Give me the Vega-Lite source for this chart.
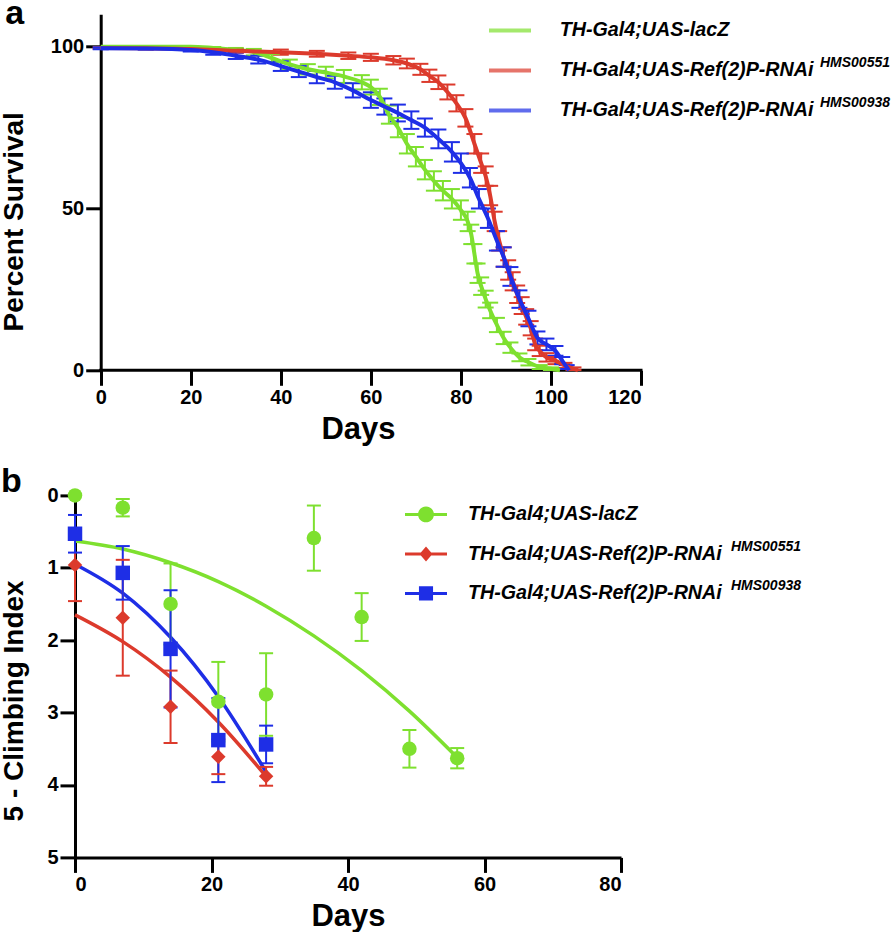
{
  "$schema": "https://vega.github.io/schema/vega-lite/v6.json",
  "padding": {"left": 0, "top": -2.7, "right": 0, "bottom": 0},
  "background": "white",
  "spacing": 21.1,
  "resolve": {"scale": {"color": "independent", "shape": "independent", "opacity": "independent"}},
  "config": {
    "view": {"stroke": null},
    "font": "Liberation Sans",
    "axis": {
      "domainColor": "black", "domainWidth": 3, "tickColor": "black", "tickWidth": 3, "tickSize": 15,
      "labelFont": "Liberation Sans", "labelFontSize": 20, "labelFontWeight": "bold", "labelColor": "black", "labelPadding": 2,
      "titleFont": "Liberation Sans", "titleFontWeight": "bold", "titleColor": "black", "grid": false
    },
    "axisX": {"titleFontSize": 31},
    "axisY": {"titleFontSize": 28},
    "legend": {
      "labelFont": "Liberation Sans", "labelFontSize": 19.7, "labelFontStyle": "italic", "labelFontWeight": "bold", "labelColor": "black",
      "padding": 0, "labelLimit": 600
    }
  },
  "vconcat": [
    {
      "width": 566,
      "height": 356,
      "title": {"text": "a", "anchor": "start", "frame": "bounds", "fontSize": 34, "fontWeight": "bold", "font": "Liberation Sans", "color": "black", "offset": -18, "dx": 5},
      "data": {"values": [
        {"series": "lacZ", "day": 0, "surv": 100, "lo": 100, "hi": 100},
        {"series": "lacZ", "day": 10, "surv": 100, "lo": 100, "hi": 100},
        {"series": "lacZ", "day": 20, "surv": 100, "lo": 100, "hi": 100},
        {"series": "lacZ", "day": 25, "surv": 99.6, "lo": 99.3, "hi": 99.9},
        {"series": "lacZ", "day": 30, "surv": 99, "lo": 98.4, "hi": 99.6},
        {"series": "lacZ", "day": 34, "surv": 98.3, "lo": 97.3, "hi": 99.3},
        {"series": "lacZ", "day": 38, "surv": 96.5, "lo": 95.3, "hi": 97.7},
        {"series": "lacZ", "day": 42, "surv": 94.5, "lo": 93, "hi": 96},
        {"series": "lacZ", "day": 46, "surv": 93, "lo": 91.4, "hi": 94.6},
        {"series": "lacZ", "day": 50, "surv": 92, "lo": 90.2, "hi": 93.8},
        {"series": "lacZ", "day": 54, "surv": 90.8, "lo": 88.8, "hi": 92.8},
        {"series": "lacZ", "day": 58, "surv": 89, "lo": 86.8, "hi": 91.2},
        {"series": "lacZ", "day": 60, "surv": 87.5, "lo": 85.2, "hi": 89.8},
        {"series": "lacZ", "day": 62, "surv": 84.5, "lo": 82, "hi": 87},
        {"series": "lacZ", "day": 64, "surv": 79, "lo": 76.2, "hi": 81.8},
        {"series": "lacZ", "day": 66, "surv": 75, "lo": 72, "hi": 78},
        {"series": "lacZ", "day": 68, "surv": 70, "lo": 67, "hi": 73},
        {"series": "lacZ", "day": 70, "surv": 66, "lo": 63, "hi": 69},
        {"series": "lacZ", "day": 72, "surv": 62, "lo": 59, "hi": 65},
        {"series": "lacZ", "day": 74, "surv": 58.5, "lo": 55.5, "hi": 61.5},
        {"series": "lacZ", "day": 76, "surv": 55.5, "lo": 52.5, "hi": 58.5},
        {"series": "lacZ", "day": 78, "surv": 53, "lo": 50, "hi": 56},
        {"series": "lacZ", "day": 80, "surv": 49.5, "lo": 46.5, "hi": 52.5},
        {"series": "lacZ", "day": 81.5, "surv": 46, "lo": 43, "hi": 49},
        {"series": "lacZ", "day": 82.3, "surv": 42, "lo": 39, "hi": 45},
        {"series": "lacZ", "day": 83, "surv": 36, "lo": 33, "hi": 39},
        {"series": "lacZ", "day": 83.7, "surv": 30, "lo": 27, "hi": 33},
        {"series": "lacZ", "day": 84.5, "surv": 26, "lo": 23.3, "hi": 28.7},
        {"series": "lacZ", "day": 85.5, "surv": 22, "lo": 19.4, "hi": 24.6},
        {"series": "lacZ", "day": 86.5, "surv": 18.5, "lo": 16.1, "hi": 20.9},
        {"series": "lacZ", "day": 88, "surv": 14, "lo": 11.8, "hi": 16.2},
        {"series": "lacZ", "day": 89.5, "surv": 10, "lo": 8.1, "hi": 11.9},
        {"series": "lacZ", "day": 91, "surv": 7, "lo": 5.4, "hi": 8.6},
        {"series": "lacZ", "day": 93, "surv": 4, "lo": 2.8, "hi": 5.2},
        {"series": "lacZ", "day": 95, "surv": 2.5, "lo": 1.5, "hi": 3.5},
        {"series": "lacZ", "day": 97.5, "surv": 1, "lo": 0.4, "hi": 1.6},
        {"series": "lacZ", "day": 100, "surv": 0.5, "lo": 0.1, "hi": 0.9},
        {"series": "lacZ", "day": 102, "surv": 0, "lo": 0, "hi": 0},
        {"series": "HMS00551", "day": 0, "surv": 99.6, "lo": 99.3, "hi": 99.9},
        {"series": "HMS00551", "day": 10, "surv": 99.5, "lo": 99.2, "hi": 99.8},
        {"series": "HMS00551", "day": 20, "surv": 99.3, "lo": 98.9, "hi": 99.7},
        {"series": "HMS00551", "day": 30, "surv": 98.7, "lo": 98.1, "hi": 99.3},
        {"series": "HMS00551", "day": 40, "surv": 98.3, "lo": 97.5, "hi": 99.1},
        {"series": "HMS00551", "day": 48, "surv": 97.8, "lo": 96.9, "hi": 98.7},
        {"series": "HMS00551", "day": 55, "surv": 97.2, "lo": 96.2, "hi": 98.2},
        {"series": "HMS00551", "day": 60, "surv": 96.7, "lo": 95.6, "hi": 97.8},
        {"series": "HMS00551", "day": 65, "surv": 95.8, "lo": 94.5, "hi": 97.1},
        {"series": "HMS00551", "day": 68, "surv": 94.8, "lo": 93.3, "hi": 96.3},
        {"series": "HMS00551", "day": 71, "surv": 93, "lo": 91.3, "hi": 94.7},
        {"series": "HMS00551", "day": 73, "surv": 91, "lo": 89.1, "hi": 92.9},
        {"series": "HMS00551", "day": 75, "surv": 89, "lo": 86.9, "hi": 91.1},
        {"series": "HMS00551", "day": 77, "surv": 86, "lo": 83.7, "hi": 88.3},
        {"series": "HMS00551", "day": 79, "surv": 82.5, "lo": 80, "hi": 85},
        {"series": "HMS00551", "day": 81, "surv": 78, "lo": 75.3, "hi": 80.7},
        {"series": "HMS00551", "day": 83, "surv": 70, "lo": 67, "hi": 73},
        {"series": "HMS00551", "day": 84.5, "surv": 64, "lo": 61, "hi": 67},
        {"series": "HMS00551", "day": 85.5, "surv": 60, "lo": 57, "hi": 63},
        {"series": "HMS00551", "day": 86.5, "surv": 54, "lo": 51, "hi": 57},
        {"series": "HMS00551", "day": 87.5, "surv": 46, "lo": 43, "hi": 49},
        {"series": "HMS00551", "day": 88.5, "surv": 40, "lo": 37, "hi": 43},
        {"series": "HMS00551", "day": 89.5, "surv": 35, "lo": 32, "hi": 38},
        {"series": "HMS00551", "day": 90.5, "surv": 31, "lo": 28, "hi": 34},
        {"series": "HMS00551", "day": 91.5, "surv": 27.5, "lo": 24.7, "hi": 30.3},
        {"series": "HMS00551", "day": 92.5, "surv": 23.5, "lo": 20.8, "hi": 26.2},
        {"series": "HMS00551", "day": 93.5, "surv": 20, "lo": 17.4, "hi": 22.6},
        {"series": "HMS00551", "day": 94.5, "surv": 16.5, "lo": 14.1, "hi": 18.9},
        {"series": "HMS00551", "day": 95.5, "surv": 13, "lo": 10.8, "hi": 15.2},
        {"series": "HMS00551", "day": 96.5, "surv": 8, "lo": 6.2, "hi": 9.8},
        {"series": "HMS00551", "day": 97.5, "surv": 6, "lo": 4.4, "hi": 7.6},
        {"series": "HMS00551", "day": 99, "surv": 4, "lo": 2.7, "hi": 5.3},
        {"series": "HMS00551", "day": 101, "surv": 3, "lo": 1.9, "hi": 4.1},
        {"series": "HMS00551", "day": 103, "surv": 1.5, "lo": 0.7, "hi": 2.3},
        {"series": "HMS00551", "day": 105, "surv": 0.5, "lo": 0.1, "hi": 0.9},
        {"series": "HMS00551", "day": 106, "surv": 0, "lo": 0, "hi": 0},
        {"series": "HMS00938", "day": 0, "surv": 99.5, "lo": 99.2, "hi": 99.8},
        {"series": "HMS00938", "day": 10, "surv": 99.4, "lo": 99.1, "hi": 99.7},
        {"series": "HMS00938", "day": 20, "surv": 99, "lo": 98.5, "hi": 99.5},
        {"series": "HMS00938", "day": 25, "surv": 98.3, "lo": 97.5, "hi": 99.1},
        {"series": "HMS00938", "day": 30, "surv": 97.2, "lo": 96.2, "hi": 98.2},
        {"series": "HMS00938", "day": 35, "surv": 96, "lo": 94.8, "hi": 97.2},
        {"series": "HMS00938", "day": 40, "surv": 94, "lo": 92.5, "hi": 95.5},
        {"series": "HMS00938", "day": 44, "surv": 92.3, "lo": 90.6, "hi": 94},
        {"series": "HMS00938", "day": 48, "surv": 90.6, "lo": 88.7, "hi": 92.5},
        {"series": "HMS00938", "day": 52, "surv": 89, "lo": 87, "hi": 91},
        {"series": "HMS00938", "day": 56, "surv": 86.5, "lo": 84.3, "hi": 88.7},
        {"series": "HMS00938", "day": 60, "surv": 83.5, "lo": 81.1, "hi": 85.9},
        {"series": "HMS00938", "day": 63, "surv": 81.5, "lo": 79, "hi": 84},
        {"series": "HMS00938", "day": 66, "surv": 79.5, "lo": 76.9, "hi": 82.1},
        {"series": "HMS00938", "day": 69, "surv": 77.3, "lo": 74.6, "hi": 80},
        {"series": "HMS00938", "day": 72, "surv": 75, "lo": 72.2, "hi": 77.8},
        {"series": "HMS00938", "day": 75, "surv": 71.5, "lo": 68.6, "hi": 74.4},
        {"series": "HMS00938", "day": 78, "surv": 67.5, "lo": 64.5, "hi": 70.5},
        {"series": "HMS00938", "day": 80, "surv": 64, "lo": 61, "hi": 67},
        {"series": "HMS00938", "day": 82, "surv": 59.5, "lo": 56.5, "hi": 62.5},
        {"series": "HMS00938", "day": 84, "surv": 53, "lo": 50, "hi": 56},
        {"series": "HMS00938", "day": 86, "surv": 47, "lo": 44, "hi": 50},
        {"series": "HMS00938", "day": 88, "surv": 40, "lo": 37, "hi": 43},
        {"series": "HMS00938", "day": 89.5, "surv": 35, "lo": 32, "hi": 38},
        {"series": "HMS00938", "day": 91, "surv": 29, "lo": 26.1, "hi": 31.9},
        {"series": "HMS00938", "day": 93, "surv": 22, "lo": 19.3, "hi": 24.7},
        {"series": "HMS00938", "day": 95, "surv": 16, "lo": 13.6, "hi": 18.4},
        {"series": "HMS00938", "day": 97, "surv": 10, "lo": 8, "hi": 12},
        {"series": "HMS00938", "day": 99, "surv": 8, "lo": 6.2, "hi": 9.8},
        {"series": "HMS00938", "day": 101, "surv": 6, "lo": 4.5, "hi": 7.5},
        {"series": "HMS00938", "day": 102.5, "surv": 3, "lo": 1.9, "hi": 4.1},
        {"series": "HMS00938", "day": 103.5, "surv": 1, "lo": 0.4, "hi": 1.6},
        {"series": "HMS00938", "day": 104, "surv": 0, "lo": 0, "hi": 0}
      ]},
      "encoding": {
        "x": {"field": "day", "type": "quantitative", "title": "Days",
              "scale": {"domain": [-5.71, 120], "nice": false},
              "axis": {"values": [0, 20, 40, 60, 80, 100, 120], "titlePadding": 7, "domain": false}},
        "color": {"field": "series", "type": "nominal",
                  "scale": {"domain": ["lacZ", "HMS00551", "HMS00938"], "range": ["#7EE02F", "#DC3A2C", "#1E2EE6"]},
                  "legend": {"title": null, "orient": "none", "legendX": 418, "legendY": -0.9,
                             "symbolType": "M0,-1M0,1M-1.4,0H1.4", "symbolSize": 900, "symbolStrokeWidth": 4,
                             "labelOffset": 32.7, "rowPadding": -6.5,
                             "labelExpr": "datum.value == 'lacZ' ? 'TH-Gal4;UAS-lacZ' : 'TH-Gal4;UAS-Ref(2)P-RNAi'"}},
        "opacity": {"field": "series", "type": "nominal",
                    "scale": {"domain": ["lacZ", "HMS00551", "HMS00938", "-"], "range": [1, 1, 1, 1]},
                    "legend": {"title": null, "orient": "none", "legendX": 711, "legendY": -0.9,
                               "symbolType": "M0,-1M0,1", "symbolSize": 900, "symbolStrokeWidth": 4, "symbolOpacity": 0,
                               "labelOffset": 0, "rowPadding": -6.5, "labelFontSize": 14, "labelBaseline": "bottom",
                               "labelExpr": "datum.value == 'HMS00551' || datum.value == 'HMS00938' ? datum.value : ''"}}
      },
      "layer": [
        {
          "data": {"values": [{"x0": 0, "x1": 120, "y0": 0}]},
          "mark": {"type": "rule", "strokeWidth": 3, "strokeCap": "square", "color": "black"},
          "encoding": {
            "x": {"field": "x0", "type": "quantitative", "title": "Days"},
            "x2": {"field": "x1"},
            "y": {"field": "y0", "type": "quantitative", "title": "Percent Survival"},
            "color": {"value": "black"},
            "opacity": {"value": 1}
          }
        },
        {
          "transform": [{"filter": "datum.hi > datum.lo"}],
          "mark": {"type": "rule", "strokeWidth": 2},
          "encoding": {
            "y": {"field": "lo", "type": "quantitative", "title": "Percent Survival"},
            "y2": {"field": "hi"}
          }
        },
        {
          "transform": [{"filter": "datum.hi > datum.lo"}],
          "mark": {"type": "tick", "orient": "horizontal", "size": 16, "thickness": 2},
          "encoding": {
            "y": {"field": "lo", "type": "quantitative", "title": "Percent Survival"}
          }
        },
        {
          "transform": [{"filter": "datum.hi > datum.lo"}],
          "mark": {"type": "tick", "orient": "horizontal", "size": 16, "thickness": 2},
          "encoding": {
            "y": {"field": "hi", "type": "quantitative", "title": "Percent Survival"}
          }
        },
        {
          "mark": {"type": "line", "strokeWidth": 4, "interpolate": "monotone"},
          "encoding": {
            "y": {"field": "surv", "type": "quantitative", "title": "Percent Survival",
                  "scale": {"domain": [0, 110], "nice": false},
                  "axis": {"values": [0, 50, 100], "titlePadding": 22, "titleY": 207, "offset": -25.7}}
          }
        }
      ]
    },
    {
      "width": 546,
      "height": 362,
      "title": {"text": "b", "anchor": "start", "frame": "bounds", "fontSize": 34, "fontWeight": "bold", "font": "Liberation Sans", "color": "black", "offset": -14},
      "resolve": {"scale": {"color": "independent", "shape": "independent"}},
      "encoding": {
        "x": {"field": "day", "type": "quantitative", "title": "Days",
              "scale": {"domain": [0, 80], "nice": false},
              "axis": {"values": [0, 20, 40, 60, 80], "titlePadding": 7}}
      },
      "layer": [
        {
          "data": {"values": [
            {"series": "lacZ", "day": 0, "fit": 0.63},
            {"series": "lacZ", "day": 7, "fit": 0.74},
            {"series": "lacZ", "day": 14, "fit": 0.93},
            {"series": "lacZ", "day": 21, "fit": 1.19},
            {"series": "lacZ", "day": 28, "fit": 1.53},
            {"series": "lacZ", "day": 35, "fit": 1.94},
            {"series": "lacZ", "day": 42, "fit": 2.42},
            {"series": "lacZ", "day": 49, "fit": 2.98},
            {"series": "lacZ", "day": 56, "fit": 3.62},
            {"series": "HMS00551", "day": 0, "fit": 1.65},
            {"series": "HMS00551", "day": 7, "fit": 2.02},
            {"series": "HMS00551", "day": 14, "fit": 2.51},
            {"series": "HMS00551", "day": 21, "fit": 3.13},
            {"series": "HMS00551", "day": 28, "fit": 3.88},
            {"series": "HMS00938", "day": 0, "fit": 0.95},
            {"series": "HMS00938", "day": 7, "fit": 1.35},
            {"series": "HMS00938", "day": 14, "fit": 1.96},
            {"series": "HMS00938", "day": 21, "fit": 2.78},
            {"series": "HMS00938", "day": 28, "fit": 3.82}
          ]},
          "mark": {"type": "line", "strokeWidth": 3.5, "interpolate": "monotone"},
          "encoding": {
            "y": {"field": "fit", "type": "quantitative", "title": "5 - Climbing Index",
                  "scale": {"domain": [0, 5], "reverse": true, "nice": false},
                  "axis": {"values": [0, 1, 2, 3, 4, 5], "format": "d", "titlePadding": 18, "titleY": 205}},
            "color": {"field": "series", "type": "nominal",
                      "scale": {"domain": ["lacZ", "HMS00551", "HMS00938"], "range": ["#7EE02F", "#DC3A2C", "#1E2EE6"]}, "legend": null}
          }
        },
        {
          "data": {"name": "pts", "values": [
            {"series": "lacZ", "day": 0, "mean": 0.0, "lo": 0.0, "hi": 0.0},
            {"series": "lacZ", "day": 7, "mean": 0.17, "lo": 0.05, "hi": 0.29},
            {"series": "lacZ", "day": 14, "mean": 1.5, "lo": 0.94, "hi": 2.06},
            {"series": "lacZ", "day": 21, "mean": 2.85, "lo": 2.3, "hi": 3.4},
            {"series": "lacZ", "day": 28, "mean": 2.75, "lo": 2.18, "hi": 3.32},
            {"series": "lacZ", "day": 35, "mean": 0.59, "lo": 0.14, "hi": 1.04},
            {"series": "lacZ", "day": 42, "mean": 1.68, "lo": 1.35, "hi": 2.01},
            {"series": "lacZ", "day": 49, "mean": 3.5, "lo": 3.24, "hi": 3.76},
            {"series": "lacZ", "day": 56, "mean": 3.63, "lo": 3.49, "hi": 3.77},
            {"series": "HMS00551", "day": 0, "mean": 0.96, "lo": 0.46, "hi": 1.46},
            {"series": "HMS00551", "day": 7, "mean": 1.69, "lo": 0.89, "hi": 2.49},
            {"series": "HMS00551", "day": 14, "mean": 2.92, "lo": 2.42, "hi": 3.42},
            {"series": "HMS00551", "day": 21, "mean": 3.61, "lo": 3.37, "hi": 3.85},
            {"series": "HMS00551", "day": 28, "mean": 3.88, "lo": 3.75, "hi": 4.01},
            {"series": "HMS00938", "day": 0, "mean": 0.53, "lo": 0.27, "hi": 0.79},
            {"series": "HMS00938", "day": 7, "mean": 1.07, "lo": 0.7, "hi": 1.44},
            {"series": "HMS00938", "day": 14, "mean": 2.12, "lo": 1.31, "hi": 2.93},
            {"series": "HMS00938", "day": 21, "mean": 3.38, "lo": 2.8, "hi": 3.96},
            {"series": "HMS00938", "day": 28, "mean": 3.44, "lo": 3.18, "hi": 3.7}
          ]},
          "transform": [{"filter": "datum.hi > datum.lo"}],
          "mark": {"type": "rule", "strokeWidth": 2},
          "encoding": {
            "y": {"field": "lo", "type": "quantitative", "title": "5 - Climbing Index"},
            "y2": {"field": "hi"},
            "color": {"field": "series", "type": "nominal",
                      "scale": {"domain": ["lacZ", "HMS00551", "HMS00938"], "range": ["#7EE02F", "#DC3A2C", "#1E2EE6"]}, "legend": null}
          }
        },
        {
          "data": {"name": "pts"},
          "transform": [{"filter": "datum.hi > datum.lo"}],
          "mark": {"type": "tick", "orient": "horizontal", "size": 14, "thickness": 2, "opacity": 1},
          "encoding": {
            "y": {"field": "lo", "type": "quantitative", "title": "5 - Climbing Index"},
            "color": {"field": "series", "type": "nominal",
                      "scale": {"domain": ["lacZ", "HMS00551", "HMS00938"], "range": ["#7EE02F", "#DC3A2C", "#1E2EE6"]}, "legend": null}
          }
        },
        {
          "data": {"name": "pts"},
          "transform": [{"filter": "datum.hi > datum.lo"}],
          "mark": {"type": "tick", "orient": "horizontal", "size": 14, "thickness": 2, "opacity": 1},
          "encoding": {
            "y": {"field": "hi", "type": "quantitative", "title": "5 - Climbing Index"},
            "color": {"field": "series", "type": "nominal",
                      "scale": {"domain": ["lacZ", "HMS00551", "HMS00938"], "range": ["#7EE02F", "#DC3A2C", "#1E2EE6"]}, "legend": null}
          }
        },
        {
          "data": {"name": "pts"},
          "mark": {"type": "point", "filled": true, "size": 210, "strokeWidth": 0, "opacity": 1},
          "encoding": {
            "y": {"field": "mean", "type": "quantitative", "title": "5 - Climbing Index"},
            "color": {"field": "series", "type": "nominal",
                      "scale": {"domain": ["lacZ", "HMS00551", "HMS00938"], "range": ["#7EE02F", "#DC3A2C", "#1E2EE6"]}, "legend": null},
            "shape": {"field": "series", "type": "nominal",
                      "scale": {"domain": ["lacZ", "HMS00551", "HMS00938"], "range": ["circle", "diamond", "square"]}, "legend": null}
          }
        },
        {
          "data": {"name": "pts"},
          "transform": [{"filter": "datum.day < 0"}],
          "mark": {"type": "point", "filled": true, "opacity": 1, "strokeWidth": 0},
          "encoding": {
            "y": {"field": "mean", "type": "quantitative", "title": "5 - Climbing Index"},
            "color": {"field": "series", "type": "nominal",
                      "scale": {"domain": ["lacZ", "HMS00551", "HMS00938"], "range": ["#7EE02F", "#DC3A2C", "#1E2EE6"]},
                      "legend": {"title": null, "orient": "none", "legendX": 336, "legendY": 4,
                                 "symbolSize": 900, "symbolStrokeWidth": 0, "symbolOpacity": 1, "labelOffset": 27, "rowPadding": 9.5,
                                 "labelExpr": "datum.value == 'lacZ' ? 'TH-Gal4;UAS-lacZ' : 'TH-Gal4;UAS-Ref(2)P-RNAi'"}},
            "shape": {"field": "series", "type": "nominal",
                      "scale": {"domain": ["lacZ", "HMS00551", "HMS00938"],
                                "range": ["M0,-1M0,1M-1.4,-0.1H1.4V0.1H-1.4Z M0.53,0A0.53,0.53,0,1,1,-0.53,0A0.53,0.53,0,1,1,0.53,0Z",
                                          "M0,-1M0,1M-1.4,-0.1H1.4V0.1H-1.4Z M0,-0.5L0.43,0L0,0.5L-0.43,0Z",
                                          "M0,-1M0,1M-1.4,-0.1H1.4V0.1H-1.4Z M-0.47,-0.47H0.47V0.47H-0.47Z"]},
                      "legend": {"title": null, "orient": "none", "legendX": 336, "legendY": 4,
                                 "symbolSize": 900, "symbolStrokeWidth": 0, "symbolOpacity": 1, "labelOffset": 27, "rowPadding": 9.5,
                                 "labelExpr": "datum.value == 'lacZ' ? 'TH-Gal4;UAS-lacZ' : 'TH-Gal4;UAS-Ref(2)P-RNAi'"}},
            "opacity": {"field": "series", "type": "nominal",
                        "scale": {"domain": ["lacZ", "HMS00551", "HMS00938", "-"], "range": [1, 1, 1, 1]},
                        "legend": {"title": null, "orient": "none", "legendX": 626, "legendY": 4,
                                   "symbolType": "M0,-1M0,1", "symbolSize": 900, "symbolStrokeWidth": 0, "symbolOpacity": 0,
                                   "labelOffset": 0, "rowPadding": 9.5, "labelFontSize": 14, "labelBaseline": "bottom",
                                   "labelExpr": "datum.value == 'HMS00551' || datum.value == 'HMS00938' ? datum.value : ''"}}
          }
        }
      ]
    }
  ]
}
